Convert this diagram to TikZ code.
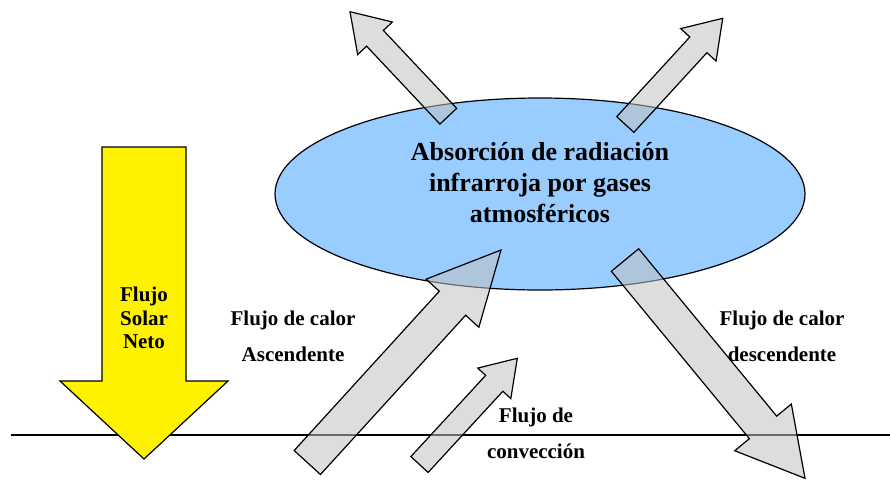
\documentclass[tikz,border=0pt]{standalone}
\usepackage{fontspec}
\setmainfont{Liberation Serif}
\usetikzlibrary{calc,shapes.geometric}

% block arrow: #1 style, #2 tail, #3 tip, #4 half shaft, #5 half head, #6 head length
\newcommand{\blockarrow}[6]{%
  \coordinate (hb) at ($(#3)!#6!(#2)$);
  \draw[#1] ($(#2)!#4!90:(#3)$) -- ($(hb)!#4!90:(#3)$) -- ($(hb)!#5!90:(#3)$)
    -- (#3) -- ($(hb)!#5!-90:(#3)$) -- ($(hb)!#4!-90:(#3)$)
    -- ($(#2)!#4!-90:(#3)$) -- cycle;
}

\tikzset{
  sunarrow/.style={draw=black,line width=1.2pt,fill=yellow,line join=miter},
  heatarrow/.style={draw=black,line width=1.2pt,fill={rgb,255:red,193;green,193;blue,193},
    fill opacity=0.55,line join=miter},
  lbl/.style={font=\bfseries\fontsize{21}{36}\selectfont,align=center,inner sep=0pt}
}

\begin{document}
\begin{tikzpicture}[x=1pt,y=-1pt]
\useasboundingbox (0,0) rectangle (890,480);

% ground
\coordinate (ground-l) at (11,435);
\coordinate (ground-r) at (890,435);
\draw[line width=1.2pt] (ground-l) -- (ground-r);

% solar flux
\coordinate (sun-t) at (144,147);
\coordinate (sun-h) at (144,459);
\blockarrow{sunarrow}{sun-t}{sun-h}{42pt}{84pt}{78pt}
\node[lbl,font=\bfseries\fontsize{21}{23.5}\selectfont] (solar) at (144,318) {Flujo\\Solar\\Neto};

% atmosphere
\node[ellipse,draw,line width=1.2pt,fill={rgb,255:red,153;green,204;blue,255},
  minimum width=530pt,minimum height=192pt,inner sep=0pt] (gases) at (540,194) {};
\node[align=center,inner sep=0pt,font=\bfseries\fontsize{26}{31}\selectfont] (gastxt)
  at (540,183) {Absorción de radiación\\infrarroja por gases\\atmosféricos};

% infrared out
\coordinate (outl-t) at (448.3,116.2);
\coordinate (outl-h) at (350,11.7);
\coordinate (outr-t) at (625.3,124.5);
\coordinate (outr-h) at (722.7,18.3);
\blockarrow{heatarrow}{outl-t}{outl-h}{11.5pt}{23.8pt}{36.5pt}
\blockarrow{heatarrow}{outr-t}{outr-h}{11.6pt}{24pt}{36pt}

% ascending / convection / descending
\coordinate (asc-t) at (307.3,462.5);
\coordinate (asc-h) at (501,250);
\coordinate (conv-t) at (419.5,464.5);
\coordinate (conv-h) at (517.3,358.3);
\coordinate (desc-t) at (625,260);
\coordinate (desc-h) at (805,478.3);
\blockarrow{heatarrow}{asc-t}{asc-h}{17.8pt}{35.7pt}{72pt}
\blockarrow{heatarrow}{conv-t}{conv-h}{11.7pt}{22.5pt}{34pt}
\blockarrow{heatarrow}{desc-t}{desc-h}{17.7pt}{36.7pt}{66pt}

\node[lbl] (asc) at (293,336) {Flujo de calor\\Ascendente};
\node[lbl] (desc) at (782,336) {Flujo de calor\\descendente};
\node[lbl] (conv) at (536,433.5) {Flujo de\\convección};
\end{tikzpicture}
\end{document}
